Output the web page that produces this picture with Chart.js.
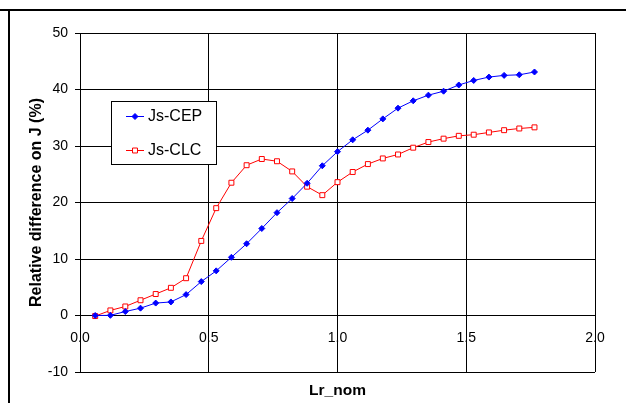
<!DOCTYPE html>
<html lang="en">
<head>
<meta charset="UTF-8">
<title>Relative difference on J</title>
<script src="https://cdn.jsdelivr.net/npm/chart.js"></script>
<style>
    html, body { margin: 0; padding: 0; background: #fff; }
    #wrap { position: relative; width: 626px; height: 403px; }
    #chart { display: block; }
    /* the bits of page frame visible in the crop */
    .rule-top { position: absolute; left: 0; top: 9px; width: 626px; height: 2px; background: #000; }
    .rule-left { position: absolute; left: 8px; top: 9px; width: 2px; height: 394px; background: #000; }
</style>
</head>
<body>
<div id="wrap">
    <canvas id="chart" width="626" height="403"></canvas>
    <div class="rule-top"></div>
    <div class="rule-left"></div>
</div>

<script>
// values
const lrNom = [0.059, 0.118, 0.176, 0.235, 0.294, 0.353, 0.412, 0.471, 0.529, 0.588,
               0.647, 0.706, 0.765, 0.824, 0.882, 0.941, 1.000, 1.059, 1.118, 1.176,
               1.235, 1.294, 1.353, 1.412, 1.471, 1.529, 1.588, 1.647, 1.706, 1.765];
const jsCep = [0.0, 0.03, 0.7, 1.3, 2.2, 2.4, 3.7, 6.0, 7.9, 10.3,
               12.7, 15.4, 18.2, 20.7, 23.4, 26.5, 29.0, 31.1, 32.8, 34.8,
               36.7, 38.0, 39.0, 39.7, 40.8, 41.6, 42.2, 42.5, 42.6, 43.1];
const jsClc = [-0.1, 0.9, 1.6, 2.7, 3.8, 4.9, 6.6, 13.2, 19.0, 23.5,
               26.6, 27.7, 27.3, 25.5, 22.8, 21.3, 23.6, 25.4, 26.8, 27.8,
               28.5, 29.7, 30.7, 31.3, 31.8, 32.0, 32.4, 32.8, 33.1, 33.3];
const xTicks = [0, 0.5, 1.0, 1.5, 2.0];
const yTicks = [-10, 0, 10, 20, 30, 40, 50];

Chart.defaults.font.family = "'Liberation Sans', Arial, sans-serif";
Chart.defaults.color = '#000';

// boxed legend sitting inside the plot area
const legendBox = {
    id: 'legendBox',
    afterDatasetsDraw(chart) {
        const { ctx, chartArea } = chart;
        const left = chartArea.left + 31, top = chartArea.top + 68;
        const w = 105, h = 63;
        ctx.save();
        ctx.fillStyle = '#fff';
        ctx.fillRect(left, top, w, h);
        ctx.strokeStyle = '#000';
        ctx.lineWidth = 1;
        ctx.strokeRect(left + 0.5, top + 0.5, w, h);

        chart.data.datasets.forEach((ds, i) => {
            const y = top + 15 + i * 34;
            ctx.strokeStyle = ds.borderColor;
            ctx.lineWidth = 1;
            ctx.beginPath();
            ctx.moveTo(left + 15, y + 0.5);
            ctx.lineTo(left + 33, y + 0.5);
            ctx.stroke();

            ctx.fillStyle = ds.pointBackgroundColor;
            ctx.strokeStyle = ds.pointBorderColor;
            Chart.helpers.drawPoint(ctx, {
                pointStyle: ds.pointStyle, radius: ds.pointRadius,
                borderWidth: ds.pointBorderWidth, rotation: 0
            }, left + 24, y + 0.5);

            ctx.fillStyle = '#000';
            ctx.font = "16px 'Liberation Sans', Arial, sans-serif";
            ctx.textBaseline = 'middle';
            ctx.textAlign = 'left';
            ctx.fillText(ds.label, left + 37, y + 1);
        });
        ctx.restore();
    }
};

new Chart(document.getElementById('chart'), {
    type: 'line',
    data: {
        datasets: [{
            label: 'Js-CEP',
            data: lrNom.map((x, i) => ({ x: x, y: jsCep[i] })),
            borderColor: '#0000ff',
            backgroundColor: '#0000ff',
            borderWidth: 1,
            pointStyle: 'rectRot',
            pointRadius: 3,
            pointBorderWidth: 1,
            pointBackgroundColor: '#0000ff',
            pointBorderColor: '#0000ff',
            tension: 0
        }, {
            label: 'Js-CLC',
            data: lrNom.map((x, i) => ({ x: x, y: jsClc[i] })),
            borderColor: '#ff0000',
            backgroundColor: '#ff0000',
            borderWidth: 1,
            pointStyle: 'rect',
            pointRadius: 3.5,
            pointBorderWidth: 1,
            pointBackgroundColor: '#ffffff',
            pointBorderColor: '#ff0000',
            tension: 0
        }]
    },
    options: {
        responsive: false,
        animation: false,
        devicePixelRatio: 1,
        layout: { padding: { top: 33, right: 31, left: 0, bottom: 0 } },
        plugins: {
            legend: { display: false },
            tooltip: { enabled: false }
        },
        scales: {
            x: {
                type: 'linear',
                min: 0,
                max: 2,
                position: { y: 0 },   // labels sit on the zero line like the original
                afterBuildTicks: s => { s.ticks = xTicks.map(v => ({ value: v })); },
                ticks: {
                    padding: 14,
                    font: { size: 14 },
                    callback: v => Number(v).toFixed(1)
                },
                grid: { color: '#000', drawTicks: false },
                border: { color: '#000' }
            },
            xTitle: {
                type: 'linear',
                axis: 'x',
                position: 'bottom',
                grid: { display: false },
                border: { display: false },
                ticks: { display: false },
                title: {
                    display: true,
                    text: 'Lr_nom',
                    font: { size: 15.5, weight: 'bold' },
                    padding: { top: 0, bottom: 3 }
                },
                afterFit: s => { s.height = 31; }
            },
            y: {
                type: 'linear',
                min: -10,
                max: 50,
                position: 'left',
                afterBuildTicks: s => { s.ticks = yTicks.map(v => ({ value: v })); },
                ticks: { padding: 7, font: { size: 14 } },
                grid: { color: '#000', tickLength: 5 },
                border: { color: '#000' },
                title: {
                    display: true,
                    text: 'Relative difference on J (%)',
                    font: { size: 16, weight: 'bold' },
                    padding: { top: 27, bottom: 0 }
                },
                afterFit: s => { s.width = 80; }
            }
        }
    },
    plugins: [legendBox]
});
</script>
</body>
</html>
